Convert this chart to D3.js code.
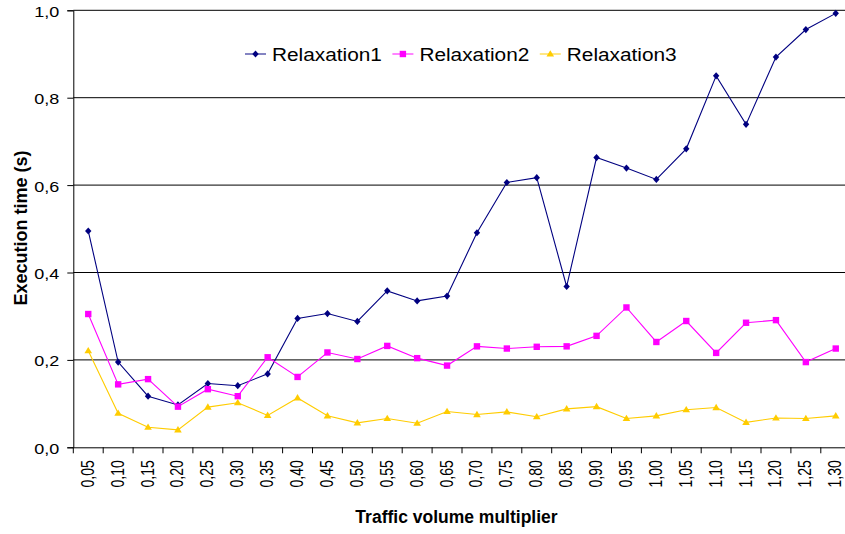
<!DOCTYPE html>
<html>
<head>
<meta charset="utf-8">
<script src="https://cdn.jsdelivr.net/npm/d3@7"></script>
<style>
  html, body { margin: 0; padding: 0; background: #fff; }
  svg { display: block; }
  text { font-family: Arial, "Liberation Sans", sans-serif; fill: #000; }
</style>
</head>
<body>
<svg id="chart" width="845" height="534"></svg>
<script>
// Traffic volume multipliers (category axis)
const categories = ["0,05","0,10","0,15","0,20","0,25","0,30","0,35","0,40","0,45","0,50",
  "0,55","0,60","0,65","0,70","0,75","0,80","0,85","0,90","0,95","1,00",
  "1,05","1,10","1,15","1,20","1,25","1,30"];

// Execution time in seconds for each relaxation
const relaxation1 = [0.495,0.195,0.117,0.097,0.146,0.141,0.168,0.295,0.306,0.288,
  0.358,0.335,0.346,0.491,0.606,0.617,0.368,0.663,0.639,0.613,
  0.683,0.850,0.739,0.893,0.956,0.993];
const relaxation2 = [0.305,0.144,0.156,0.093,0.133,0.117,0.206,0.161,0.217,0.202,
  0.232,0.204,0.187,0.231,0.226,0.230,0.231,0.255,0.320,0.241,
  0.289,0.216,0.285,0.291,0.195,0.226];
const relaxation3 = [0.221,0.078,0.046,0.040,0.092,0.102,0.073,0.113,0.072,0.056,
  0.066,0.055,0.082,0.075,0.081,0.070,0.088,0.093,0.066,0.072,
  0.086,0.091,0.057,0.067,0.066,0.072];

const yTicks = [0, 0.2, 0.4, 0.6, 0.8, 1.0];
const seriesNames = ["Relaxation1", "Relaxation2", "Relaxation3"];
const seriesColors = ["#000080", "#FF00FF", "#FFCC00"];
const seriesMarkers = ["diamond", "square", "triangle"];

const series = [relaxation1, relaxation2, relaxation3].map((values, i) => ({
  name: seriesNames[i], color: seriesColors[i], marker: seriesMarkers[i], values
}));

const svg = d3.select("#chart");
const plotLeft = 73.3, plotTop = 10.3, plotBottom = 447.3, plotRight = 850.7;

const x = d3.scaleBand().domain(categories).range([plotLeft, plotRight]);
const y = d3.scaleLinear().domain([0, 1]).range([plotBottom, plotTop]);
const cx = c => x(c) + x.bandwidth() / 2;

const fmt = d => d.toFixed(1).replace(".", ",");

// horizontal gridlines
svg.append("g").selectAll("line").data(yTicks.filter(d => d > 0)).join("line")
  .attr("x1", plotLeft).attr("x2", plotRight)
  .attr("y1", d => y(d)).attr("y2", d => y(d))
  .attr("stroke", "#000").attr("stroke-width", 1);

// y axis
const yAxis = svg.append("g").attr("transform", `translate(${plotLeft},0)`)
  .call(d3.axisLeft(y).tickValues(yTicks).tickSize(6).tickFormat(fmt));
yAxis.select(".domain").attr("stroke", "#000");
yAxis.selectAll(".tick line").attr("stroke", "#000");
yAxis.selectAll(".tick text")
  .attr("x", null).attr("dy", null)
  .attr("text-anchor", "end")
  .style("font-size", "15px")
  .attr("transform", "translate(-14,6) scale(1.2,1)");

// x axis
const xAxis = svg.append("g").attr("transform", `translate(0,${plotBottom})`)
  .call(d3.axisBottom(x).tickSize(6).tickSizeOuter(0));
xAxis.select(".domain").attr("stroke", "#000");
// ticks sit on the band edges rather than band centres
xAxis.selectAll(".tick line")
  .attr("x1", -x.bandwidth() / 2).attr("x2", -x.bandwidth() / 2).attr("stroke", "#000");
xAxis.selectAll(".tick text")
  .attr("x", null).attr("y", null).attr("dy", null)
  .attr("text-anchor", "end")
  .style("font-size", "14px")
  .attr("transform", "translate(5.5,13) scale(1.25,1) rotate(-90)");

// marker shapes per series
function drawMarker(sel, s) {
  if (s.marker === "diamond") {
    sel.attr("d", "M0,-3.6L3.2,0L0,3.6L-3.2,0Z");
  } else if (s.marker === "square") {
    sel.attr("d", "M-3.2,-3.2H3.2V3.2H-3.2Z");
  } else {
    sel.attr("d", "M0,-3.8L3.8,2.6H-3.8Z");
  }
  sel.attr("fill", s.color).attr("stroke", "none");
}

const line = d3.line().x((d, i) => cx(categories[i])).y(d => y(d));

series.forEach(s => {
  const g = svg.append("g");
  g.append("path").datum(s.values)
    .attr("d", line).attr("fill", "none")
    .attr("stroke", s.color).attr("stroke-width", 1.1);
  g.selectAll("path.m").data(s.values).join("path").attr("class", "m")
    .attr("transform", (d, i) => `translate(${cx(categories[i])},${y(d)})`)
    .call(drawMarker, s);
});

// legend
const legend = svg.append("g");
let lx = 245;
const ly = 54, textScale = 1.19;
series.forEach(s => {
  const item = legend.append("g");
  item.append("line").attr("x1", lx).attr("x2", lx + 21).attr("y1", ly).attr("y2", ly)
    .attr("stroke", s.color).attr("stroke-width", 1.3).attr("stroke-opacity", 0.75);
  item.append("path").attr("transform", `translate(${lx + 10.5},${ly})`).call(drawMarker, s);
  const t = item.append("text")
    .attr("transform", `translate(${lx + 27},${ly + 7}) scale(${textScale},1)`)
    .style("font-size", "17.5px").text(s.name);
  const w = t.node().getComputedTextLength() * textScale;
  lx += 27 + w + 10.5;
});

// axis titles
svg.append("text")
  .attr("transform", "translate(27,228) rotate(-90)")
  .attr("text-anchor", "middle")
  .style("font-size", "18px").style("font-weight", "bold")
  .text("Execution time (s)");

svg.append("text")
  .attr("x", 456.5).attr("y", 522.5)
  .attr("text-anchor", "middle")
  .style("font-size", "17.5px").style("font-weight", "bold")
  .text("Traffic volume multiplier");
</script>
</body>
</html>
